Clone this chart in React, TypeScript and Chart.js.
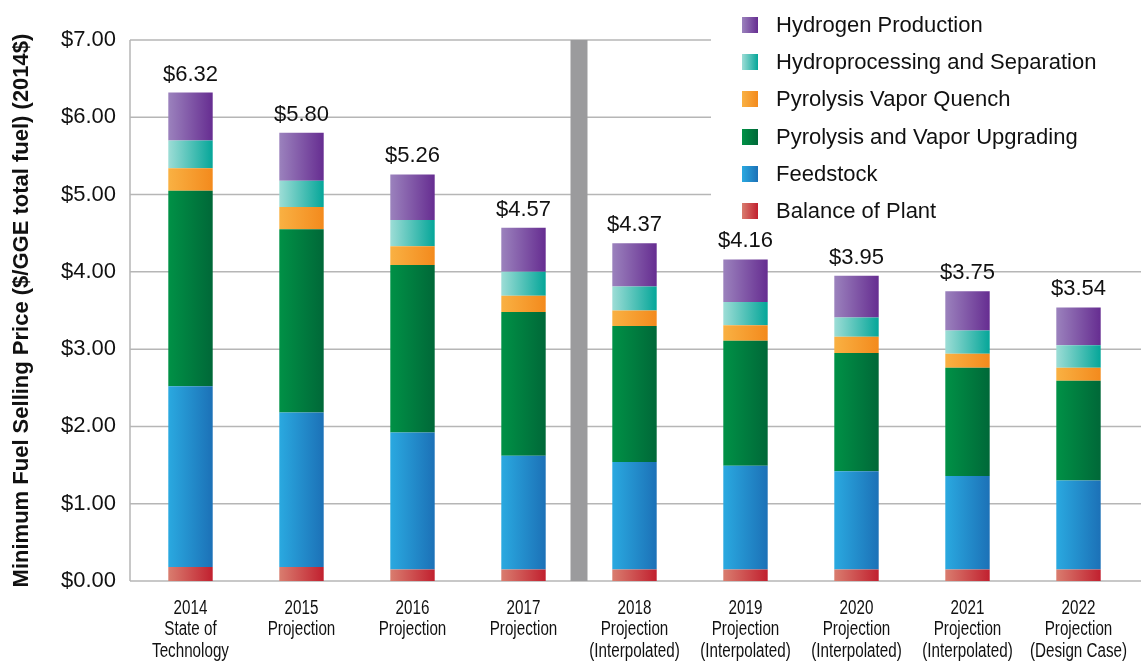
import React, { useEffect, useRef } from 'react';
import { Chart, registerables } from 'chart.js';

Chart.register(...registerables);

const categories: string[][] = [
  ['2014', 'State of', 'Technology'],
  ['2015', 'Projection'],
  ['2016', 'Projection'],
  ['2017', 'Projection'],
  ['2018', 'Projection', '(Interpolated)'],
  ['2019', 'Projection', '(Interpolated)'],
  ['2020', 'Projection', '(Interpolated)'],
  ['2021', 'Projection', '(Interpolated)'],
  ['2022', 'Projection', '(Design Case)'],
];

const balanceOfPlant = [0.18, 0.18, 0.15, 0.15, 0.15, 0.15, 0.15, 0.15, 0.15];
const feedstock = [2.34, 2.0, 1.77, 1.47, 1.39, 1.34, 1.27, 1.21, 1.15];
const pyrolysisUpgrading = [2.53, 2.37, 2.17, 1.86, 1.76, 1.62, 1.53, 1.4, 1.29];
const vaporQuench = [0.29, 0.29, 0.24, 0.21, 0.2, 0.2, 0.21, 0.18, 0.17];
const hydroprocessing = [0.36, 0.34, 0.34, 0.31, 0.31, 0.3, 0.25, 0.3, 0.29];
const hydrogenProduction = [0.62, 0.62, 0.59, 0.57, 0.56, 0.55, 0.54, 0.51, 0.49];

const totalLabels = ['$6.32', '$5.80', '$5.26', '$4.57', '$4.37', '$4.16', '$3.95', '$3.75', '$3.54'];
const yTickValues = [0, 1, 2, 3, 4, 5, 6, 7];

const FONT = '"Liberation Sans", Arial, Helvetica, sans-serif';

const seriesDefs = [
  { label: 'Balance of Plant', data: balanceOfPlant, c1: '#d97d6f', c2: '#c1202f' },
  { label: 'Feedstock', data: feedstock, c1: '#2aa9e0', c2: '#1c71b7' },
  { label: 'Pyrolysis and Vapor Upgrading', data: pyrolysisUpgrading, c1: '#009146', c2: '#006838' },
  { label: 'Pyrolysis Vapor Quench', data: vaporQuench, c1: '#f9b143', c2: '#f38a1d' },
  { label: 'Hydroprocessing and Separation', data: hydroprocessing, c1: '#9dddd6', c2: '#05a699' },
  { label: 'Hydrogen Production', data: hydrogenProduction, c1: '#9b82bd', c2: '#662d91' },
];

const BAR_PCT = 0.4;

function gradientFor(c1: string, c2: string) {
  return (ctx: any) => {
    const chart = ctx.chart;
    const xs = chart.scales?.x;
    if (!chart.chartArea || !xs || ctx.dataIndex === undefined) return c2;
    const cx = xs.getPixelForValue(ctx.dataIndex);
    const w = ((chart.chartArea.right - chart.chartArea.left) / categories.length) * BAR_PCT;
    const g = chart.ctx.createLinearGradient(cx - w / 2, 0, cx + w / 2, 0);
    g.addColorStop(0, c1);
    g.addColorStop(1, c2);
    return g;
  };
}

const decorPlugin = {
  id: 'decor',
  beforeDatasetsDraw(chart: any) {
    const { ctx, scales } = chart;
    const y = scales.y;
    const x = scales.x;
    ctx.save();
    ctx.strokeStyle = '#b6b6b6';
    ctx.lineWidth = 1.5;
    yTickValues.forEach((v) => {
      const py = y.getPixelForValue(v);
      ctx.beginPath();
      ctx.moveTo(130, py);
      ctx.lineTo(1141, py);
      ctx.stroke();
    });
    ctx.beginPath();
    ctx.moveTo(130, y.getPixelForValue(7));
    ctx.lineTo(130, y.getPixelForValue(0));
    ctx.stroke();
    // legend background
    ctx.fillStyle = '#ffffff';
    ctx.fillRect(711, 0, 430, 225);
    // separator bar
    const sx = (x.getPixelForValue(3) + x.getPixelForValue(4)) / 2;
    const top = y.getPixelForValue(7);
    const bottom = y.getPixelForValue(0);
    ctx.fillStyle = '#9b9b9d';
    ctx.fillRect(sx - 8.5, top, 17, bottom - top);
    ctx.restore();
  },
  afterDatasetsDraw(chart: any) {
    const { ctx, scales } = chart;
    ctx.save();
    // total labels
    const lastMeta = chart.getDatasetMeta(seriesDefs.length - 1);
    ctx.font = `22px ${FONT}`;
    ctx.fillStyle = '#111111';
    ctx.textAlign = 'center';
    ctx.textBaseline = 'alphabetic';
    lastMeta.data.forEach((el: any, i: number) => {
      ctx.fillText(totalLabels[i], el.x, el.y - 12);
    });
    // category labels (condensed)
    const xs = scales.x;
    const base = scales.y.getPixelForValue(0);
    ctx.font = `20px ${FONT}`;
    ctx.textBaseline = 'middle';
    ctx.textAlign = 'center';
    (chart.data.labels as string[][]).forEach((lines, i) => {
      const cx = xs.getPixelForValue(i);
      lines.forEach((line, j) => {
        ctx.save();
        ctx.translate(cx, base + 27 + j * 21.7);
        ctx.scale(0.76, 1);
        ctx.fillText(line, 0, 0);
        ctx.restore();
      });
    });
    // legend
    const rows = [25, 62, 99, 137, 174, 211];
    const reversed = [...seriesDefs].reverse();
    ctx.font = `22px ${FONT}`;
    ctx.textAlign = 'left';
    ctx.textBaseline = 'middle';
    reversed.forEach((s, i) => {
      const cy = rows[i];
      const g = ctx.createLinearGradient(742, 0, 758, 0);
      g.addColorStop(0, s.c1);
      g.addColorStop(1, s.c2);
      ctx.fillStyle = g;
      ctx.fillRect(742, cy - 8, 16, 16);
      ctx.fillStyle = '#111111';
      ctx.fillText(s.label, 776, cy + 1);
    });
    ctx.restore();
  },
};

export default function App() {
  const canvasRef = useRef<HTMLCanvasElement | null>(null);

  useEffect(() => {
    document.body.style.margin = '0';
    const canvas = canvasRef.current;
    if (!canvas) return;
    const chart = new Chart(canvas, {
      type: 'bar',
      data: {
        labels: categories as any,
        datasets: seriesDefs.map((s) => ({
          label: s.label,
          data: s.data,
          backgroundColor: gradientFor(s.c1, s.c2),
          borderWidth: 0,
          barPercentage: BAR_PCT,
          categoryPercentage: 1,
        })),
      },
      options: {
        animation: false,
        responsive: false,
        devicePixelRatio: 1,
        layout: { padding: { top: 40, right: 7, left: 0, bottom: 0 } },
        plugins: {
          legend: { display: false },
          tooltip: { enabled: false },
        },
        scales: {
          x: {
            stacked: true,
            grid: { display: false, drawTicks: false },
            border: { display: false },
            ticks: { display: false },
            afterFit: (scale: any) => {
              scale.height = 81;
            },
          },
          y: {
            stacked: true,
            min: 0,
            max: 7,
            grid: { display: false, drawTicks: false },
            border: { display: false },
            ticks: {
              stepSize: 1,
              color: '#111111',
              font: { family: FONT, size: 22 },
              padding: 19,
              callback: (v: any) => '$' + Number(v).toFixed(2),
            },
            title: {
              display: true,
              text: 'Minimum Fuel Selling Price ($/GGE total fuel) (2014$)',
              color: '#111111',
              font: { family: FONT, size: 22, weight: 'bold' },
              padding: { top: 9, bottom: 0 },
            },
            afterFit: (scale: any) => {
              scale.width = 135;
            },
          },
        },
      },
      plugins: [decorPlugin],
    });
    return () => chart.destroy();
  }, []);

  return (
    <div style={{ width: 1141, height: 662 }}>
      <canvas ref={canvasRef} width={1141} height={662} style={{ display: 'block' }} />
    </div>
  );
}
